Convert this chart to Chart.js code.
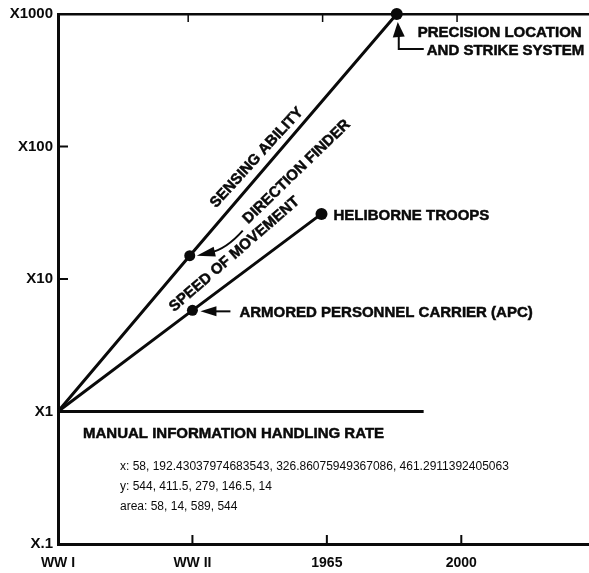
<!DOCTYPE html>
<html>
<head>
<meta charset="utf-8">
<title>Growth rates since WW I</title>
<script src="https://cdn.jsdelivr.net/npm/chart.js@4.4.1/dist/chart.umd.min.js"></script>
<style>
  html, body { margin: 0; padding: 0; background: #fff; }
  #wrap { width: 589px; height: 573px; }
</style>
</head>
<body>
<div id="wrap"><canvas id="growth-chart" width="589" height="573"></canvas></div>
<script>
// x axis eras, placed at 0..3 on a linear scale
const eraTicks = [0, 1, 2, 3];
const eraLabels = ['WW I', 'WW II', '1965', '2000'];

// y axis multipliers (log scale)
const factorTicks = [0.1, 1, 10, 100, 1000];
const factorLabels = ['X.1', 'X1', 'X10', 'X100', 'X1000'];

// sensing ability: WW I -> direction finder -> precision location and strike system
const sensingX = [0, 0.98, 2.52];
const sensingY = [1, 15, 1000];

// speed of movement: WW I -> APC -> heliborne troops
const speedX = [0, 1.0, 1.96];
const speedY = [1, 5.8, 31];

// manual information handling rate stays flat
const manualX = [0, 2.72];
const manualY = [1, 1];

const INK = '#0a0a0a';
const FONT = '"Liberation Sans", Arial, sans-serif';

function toPoints(xs, ys) {
  return xs.map(function (x, i) { return { x: x, y: ys[i] }; });
}

function lineSet(label, xs, ys, radii) {
  return {
    label: label,
    data: toPoints(xs, ys),
    borderColor: INK,
    backgroundColor: INK,
    borderWidth: 3,
    pointRadius: radii,
    pointBackgroundColor: INK,
    pointBorderColor: INK,
    pointBorderWidth: 0,
    tension: 0,
    clip: false
  };
}

// top frame line and short inward tick marks
const frame = {
  id: 'frame',
  afterDraw: function (chart) {
    const ctx = chart.ctx;
    const area = chart.chartArea;
    const xs = chart.scales.x;
    const ys = chart.scales.y;

    ctx.save();
    ctx.fillStyle = INK;
    ctx.fillRect(area.left, area.top - 1, chart.width - area.left, 2.5);

    const xv = eraTicks.map(function (v) { return xs.getPixelForValue(v); });
    const yv = factorTicks.map(function (v) { return ys.getPixelForValue(v); });
    ctx.font = '12px ' + FONT;
    ctx.fillText('x: ' + xv.join(', '), 120, 470);
    ctx.fillText('y: ' + yv.join(', '), 120, 490);
    ctx.fillText('area: ' + [area.left, area.top, area.right, area.bottom].join(', '), 120, 510);

    for (let i = 1; i < xv.length; i++) {
      ctx.fillRect(xv[i] - 1, area.bottom - 9, 2, 9);
      ctx.fillRect(xv[i] - 5, area.top, 1.5, 8);
    }
    for (let i = 2; i < yv.length - 1; i++) {
      ctx.fillRect(area.left, yv[i] - 1, 10, 2);
    }
    ctx.restore();
  }
};

// captions and pointer arrows
const annotate = {
  id: 'annotate',
  afterDraw: function (chart) {
    const ctx = chart.ctx;
    const pt = function (ds, i) {
      const el = chart.getDatasetMeta(ds).data[i];
      return { x: el.x, y: el.y };
    };

    ctx.save();
    ctx.strokeStyle = INK;
    ctx.fillStyle = INK;
    ctx.font = 'bold 15px ' + FONT;
    ctx.textBaseline = 'middle';
    ctx.textAlign = 'left';

    // heavy print: fill plus a hairline stroke
    const caption = function (text, x, y) {
      ctx.lineWidth = 0.5;
      ctx.fillText(text, x, y);
      ctx.strokeText(text, x, y);
    };

    const arrowHead = function (tx, ty, bx, by, half) {
      const ang = Math.atan2(ty - by, tx - bx);
      const nx = -Math.sin(ang) * half;
      const ny = Math.cos(ang) * half;
      ctx.beginPath();
      ctx.moveTo(tx, ty);
      ctx.lineTo(bx + nx, by + ny);
      ctx.lineTo(bx - nx, by - ny);
      ctx.closePath();
      ctx.fill();
    };

    const rotated = function (text, cx, cy, deg) {
      ctx.save();
      ctx.translate(cx, cy);
      ctx.rotate(deg * Math.PI / 180);
      ctx.textAlign = 'center';
      caption(text, 0, 0);
      ctx.restore();
    };

    // precision location and strike system
    const pls = pt(0, 2);
    arrowHead(pls.x + 1, pls.y + 8, pls.x + 2, pls.y + 23, 6);
    ctx.lineWidth = 2;
    ctx.beginPath();
    ctx.moveTo(pls.x + 2, pls.y + 20);
    ctx.lineTo(pls.x + 2, pls.y + 35);
    ctx.lineTo(pls.x + 27, pls.y + 35);
    ctx.stroke();
    caption('PRECISION LOCATION', pls.x + 21, pls.y + 19);
    caption('AND STRIKE SYSTEM', pls.x + 30, pls.y + 37);

    // direction finder
    const df = pt(0, 1);
    ctx.lineWidth = 2;
    ctx.beginPath();
    ctx.moveTo(df.x + 53, df.y - 25);
    ctx.quadraticCurveTo(df.x + 36, df.y - 6, df.x + 20, df.y - 3);
    ctx.stroke();
    arrowHead(df.x + 7, df.y, df.x + 25, df.y - 4, 5);
    rotated('DIRECTION FINDER', df.x + 107, df.y - 84, -44);
    rotated('SENSING ABILITY', df.x + 67, df.y - 98, -47.5);

    // armored personnel carrier
    const apc = pt(1, 1);
    arrowHead(apc.x + 8, apc.y + 1, apc.x + 24, apc.y + 1, 5);
    ctx.lineWidth = 2;
    ctx.beginPath();
    ctx.moveTo(apc.x + 20, apc.y + 1);
    ctx.lineTo(apc.x + 38, apc.y + 1);
    ctx.stroke();
    caption('ARMORED PERSONNEL CARRIER (APC)', apc.x + 47, apc.y + 3);
    rotated('SPEED OF MOVEMENT', apc.x + 42, apc.y - 56, -41);

    // heliborne troops
    const heli = pt(1, 2);
    caption('HELIBORNE TROOPS', heli.x + 12, heli.y + 2);

    // manual rate caption
    const man = pt(2, 0);
    caption('MANUAL INFORMATION HANDLING RATE', man.x + 25, man.y + 22);

    ctx.restore();
  }
};

new Chart(document.getElementById('growth-chart'), {
  type: 'line',
  data: {
    datasets: [
      lineSet('Sensing ability', sensingX, sensingY, [0, 5.5, 6]),
      lineSet('Speed of movement', speedX, speedY, [0, 5.5, 6]),
      lineSet('Manual information handling rate', manualX, manualY, 0)
    ]
  },
  options: {
    responsive: false,
    animation: false,
    events: [],
    layout: { autoPadding: false, padding: { top: 14, left: 0, right: 0, bottom: 0 } },
    plugins: {
      legend: { display: false },
      tooltip: { enabled: false },
      colors: { enabled: false }
    },
    scales: {
      x: {
        type: 'linear',
        min: 0,
        max: 3.95,
        grid: { display: false, drawTicks: false },
        border: { display: true, color: INK, width: 3 },
        afterBuildTicks: function (scale) {
          scale.ticks = eraTicks.map(function (v) { return { value: v }; });
        },
        afterFit: function (scale) { scale.height = 29; },
        ticks: {
          color: INK,
          padding: 11,
          maxRotation: 0,
          font: { family: FONT, size: 14, weight: 'bold' },
          callback: function (v) { return eraLabels[eraTicks.indexOf(v)]; }
        }
      },
      y: {
        type: 'logarithmic',
        min: 0.1,
        max: 1000,
        grid: { display: false, drawTicks: false },
        border: { display: true, color: INK, width: 3 },
        afterBuildTicks: function (scale) {
          scale.ticks = factorTicks.map(function (v) { return { value: v }; });
        },
        afterFit: function (scale) { scale.width = 58; },
        ticks: {
          color: INK,
          padding: 5,
          font: { family: FONT, size: 15, weight: 'bold' },
          callback: function (v) { return factorLabels[factorTicks.indexOf(v)]; }
        }
      }
    }
  },
  plugins: [frame, annotate]
});
</script>
</body>
</html>
